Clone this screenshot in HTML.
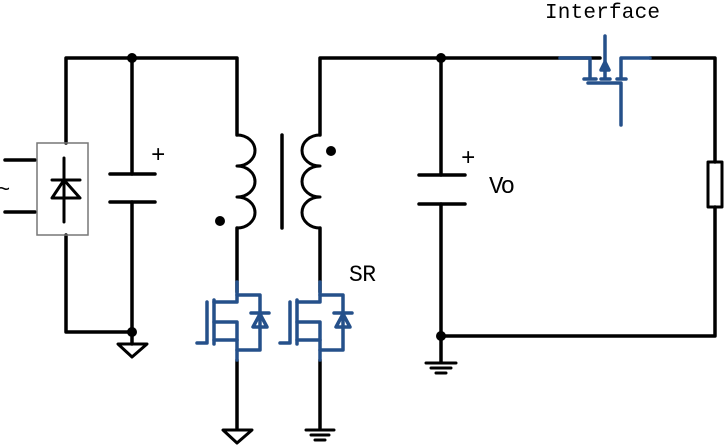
<!DOCTYPE html>
<html><head><style>
html,body{margin:0;padding:0;background:#fff;width:726px;height:447px;overflow:hidden}
</style></head><body>
<svg width="726" height="447" viewBox="0 0 726 447" xmlns="http://www.w3.org/2000/svg">
<g fill="none" stroke="#000" stroke-width="3.5" stroke-linecap="round" stroke-linejoin="round">
<path d="M66 143V58H237V135"/>
<path d="M66 235V332H132"/>
<path d="M132 58V174M132 202V344"/>
<path d="M110 174H155M110 202H155"/>
<path d="M5 160H35M5 212H35"/>
<path d="M64 158V222M52 180H80M52 198L64 180L80 198Z" stroke-width="3"/>
<path d="M237 135 A18 15.5 0 0 1 237 166 A18 15.5 0 0 1 237 197 A18 15.5 0 0 1 237 228" stroke-width="3"/>
<path d="M237 228V292M237 360V428"/>
<path d="M282 135V228"/>
<path d="M320 135V58H600"/>
<path d="M320 135 A18 15.5 0 0 0 320 166 A18 15.5 0 0 0 320 197 A18 15.5 0 0 0 320 228" stroke-width="3"/>
<path d="M320 228V292M320 360V428"/>
<path d="M441 58V175M441 204V362"/>
<path d="M419 175H465M419 204H465"/>
<path d="M441 336H715V207M715 162V58H650"/>
<rect x="708" y="162" width="14" height="45" stroke-width="3"/>
<path d="M118 344H147L132 357Z" stroke-width="3"/>
<path d="M223 430H252L237 443Z" stroke-width="3"/>
<path d="M306 430H334M311 435H329M315 440H325" stroke-width="3"/>
<path d="M426 363H456M431 368H451M436 373H446" stroke-width="3"/>
</g>
<rect x="37" y="143" width="51" height="92" fill="none" stroke="#777" stroke-width="1.5"/>
<g fill="#000">
<circle cx="132" cy="58" r="5"/><circle cx="132" cy="332" r="5"/>
<circle cx="441" cy="58" r="5"/><circle cx="441" cy="336" r="5"/>
<circle cx="220" cy="221" r="5"/><circle cx="331" cy="151" r="5"/>
</g>
<g fill="none" stroke="#25508a" stroke-width="3.5" stroke-linecap="round" stroke-linejoin="round">
<g id="m1">
<path d="M237 282V295H260V350H237V360"/>
<path d="M237 295V302H214M214 340H237V350"/>
<path d="M214 322H237V340"/>
<path d="M207 302V343H197"/>
<path d="M214 300V344"/>
<path d="M251 313H269M253 327H267L260 314Z"/>
</g>
<use href="#m1" transform="translate(83 0)"/>
<path d="M560 58H590V78M584 79H596M601 79H610M617 79H626M588 83H621V125M621 79V58H650"/>
<path d="M605 36V78"/>
<path d="M601 70L605 62L609 70Z" fill="#25508a"/>
</g>
<text x="545" y="18" style="font-family:'Liberation Mono',monospace;font-size:21px" fill="#000" textLength="115">Interface</text>
<text x="489" y="193" style="font-family:'Liberation Mono',monospace;font-size:24px" fill="#000" textLength="26">Vo</text>
<text x="349" y="281" style="font-family:'Liberation Mono',monospace;font-size:23px" fill="#000" textLength="27">SR</text>
<text x="151" y="162" style="font-family:'Liberation Mono',monospace;font-size:24px" fill="#000">+</text>
<text x="461" y="165" style="font-family:'Liberation Mono',monospace;font-size:24px" fill="#000">+</text>
<text x="-3" y="196" style="font-family:'Liberation Mono',monospace;font-size:22px" fill="#000">~</text>
</svg>
</body></html>
